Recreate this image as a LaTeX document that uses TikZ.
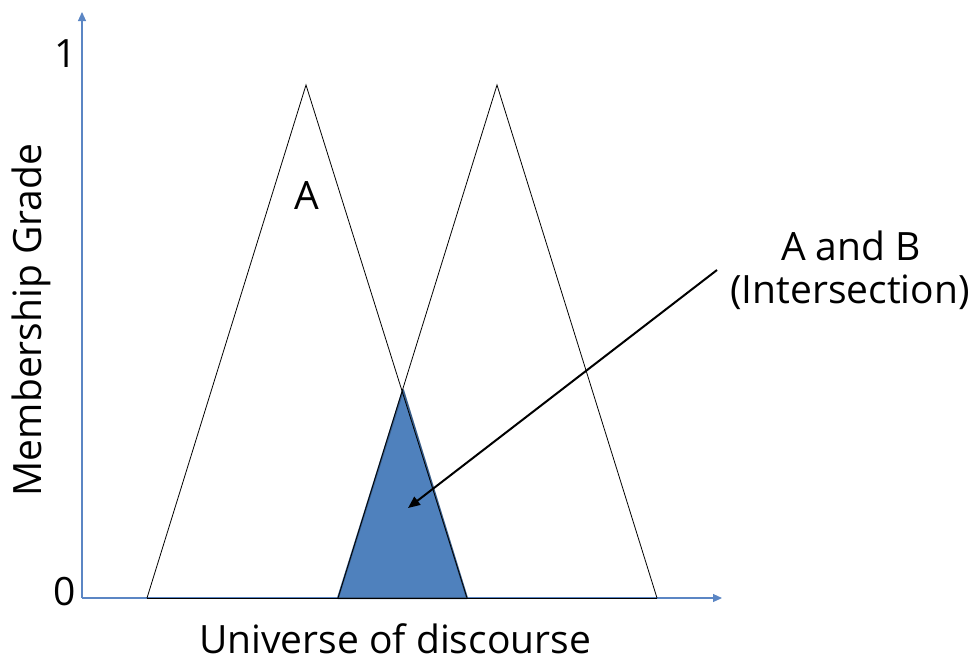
\documentclass[tikz,border=0pt]{standalone}
\usepackage{fontspec}
\setmainfont{Open Sans}
\usepackage{tikz}
\usetikzlibrary{arrows.meta,positioning}
\definecolor{axisblue}{RGB}{91,134,196}
\definecolor{fillblue}{RGB}{79,129,189}
\definecolor{edgeblue}{RGB}{56,93,138}

\begin{document}
\begin{tikzpicture}[x=1pt, y=-1pt,
    axisline/.style={draw=axisblue, line width=1.1pt, -{Triangle[length=9pt, width=8pt]}},
    memb/.style={draw=black, line width=0.8pt},
    overlap/.style={fill=fillblue, draw=edgeblue, line width=2pt, line join=round},
    lbl/.style={font=\fontsize{39}{46}\selectfont, inner sep=0pt},
    pointer/.style={-{Triangle[length=12pt, width=10pt]}, line width=2pt}
]
    \useasboundingbox (0,0) rectangle (974,665);

    % Axes
    \coordinate (O) at (82,598);
    \coordinate (Ytop) at (82,12);
    \coordinate (Xend) at (722,598);
    \draw[axisline] (O) -- (Ytop);
    \draw[axisline] (O) -- (Xend);

    % Membership functions
    \coordinate (Aleft) at (147,598);
    \coordinate (Apeak) at (306,85);
    \coordinate (Aright) at (467,598);
    \coordinate (Bleft) at (338,598);
    \coordinate (Bpeak) at (497,85);
    \coordinate (Bright) at (657,598);
    \coordinate (Cross) at (403,390);

    % Intersection (filled)
    \draw[overlap] (Bleft) -- (Cross) -- (Aright) -- cycle;

    \draw[memb] (Aleft) -- (Apeak) -- (Aright);
    \draw[memb] (Bleft) -- (Bpeak) -- (Bright);
    \draw[memb] (Aleft) -- (Bright);

    % Labels
    \node[lbl] (one) at (66,54) {1};
    \node[lbl] (zero) at (65,592) {0};
    \node[lbl] (labA) at (307,196) {A};
    \node[lbl, rotate=90, anchor=base] (ylab) at (41,320) {Membership Grade};
    \node[lbl, anchor=base] (xlab) at (395,653) {Universe of discourse};
    \node[lbl, anchor=base] (andB) at (851,260) {A and B};
    \node[lbl, anchor=base] (inter) at (850,303) {(Intersection)};

    % Pointer
    \coordinate (ptail) at (717,270);
    \coordinate (phead) at (408,508);
    \draw[pointer] (ptail) -- (phead);
\end{tikzpicture}
\end{document}
